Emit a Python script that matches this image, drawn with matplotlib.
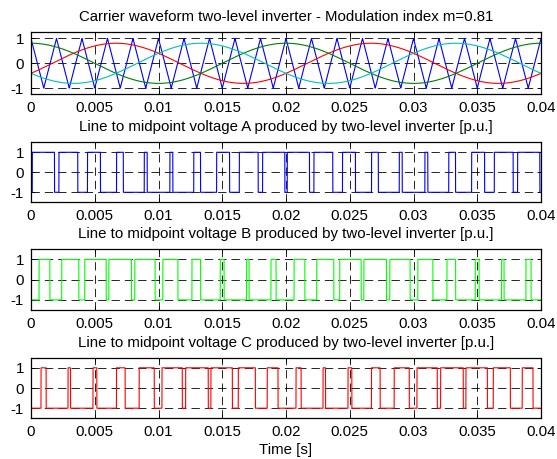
import numpy as np
import matplotlib
matplotlib.use("Agg")
import matplotlib.pyplot as plt

# ---- data ----
modulation_index = 0.81
fundamental_hz = 50.0
carrier_hz = 500.0
phase_deg_A = 0.0      # green sine in top panel -> panel A
phase_deg_B = -120.0   # red sine in top panel   -> panel B
phase_deg_C = 120.0    # cyan sine in top panel  -> panel C
t_end = 0.04
xticks = [0, 0.005, 0.01, 0.015, 0.02, 0.025, 0.03, 0.035, 0.04]
xticklabels = ["0", "0.005", "0.01", "0.015", "0.02", "0.025", "0.03", "0.035", "0.04"]
yticks = [-1, 0, 1]
titles = [
    "Carrier waveform two-level inverter - Modulation index m=0.81",
    "Line to midpoint voltage A produced by two-level inverter [p.u.]",
    "Line to midpoint voltage B produced by two-level inverter [p.u.]",
    "Line to midpoint voltage C produced by two-level inverter [p.u.]",
]
xlabel = "Time [s]"

# ---- signals ----
t = np.linspace(0, t_end, 80001)
w = 2 * np.pi * fundamental_hz
ref_A = modulation_index * np.cos(w * t + np.deg2rad(phase_deg_A))
ref_B = modulation_index * np.cos(w * t + np.deg2rad(phase_deg_B))
ref_C = modulation_index * np.cos(w * t + np.deg2rad(phase_deg_C))
# triangular carrier, +1 at t=0
ph = (t * carrier_hz) % 1.0
carrier = np.where(ph < 0.5, 1 - 4 * ph, -3 + 4 * ph)
pwm_A = np.where(ref_A > carrier, 1.0, -1.0)
pwm_B = np.where(ref_B > carrier, 1.0, -1.0)
pwm_C = np.where(ref_C > carrier, 1.0, -1.0)

plt.rcParams['font.family'] = ['Liberation Sans', 'DejaVu Sans']
fig = plt.figure(figsize=(5.57, 4.59), dpi=100)
W, H = 557.0, 459.0
left, right = 31.0, 541.0
boxes = [(32.3, 94.3), (142.3, 202.3), (249.3, 310.0), (357.7, 418.3)]
axes = []
for (top, bot) in boxes:
    ax = fig.add_axes([left / W, 1 - bot / H, (right - left) / W, (bot - top) / H])
    axes.append(ax)

fs = 10.8
ax = axes[0]
ax.plot(t, carrier, color=(0, 0, 1), lw=0.8)
ax.plot(t, ref_B, color=(1, 0, 0), lw=0.8)
ax.plot(t, ref_A, color=(0, 0.5, 0), lw=0.8)
ax.plot(t, ref_C, color=(0, 0.75, 0.75), lw=0.8)
ax.set_ylim(-1.25, 1.25)

for ax, y, c in zip(axes[1:], [pwm_A, pwm_B, pwm_C], [(0, 0, 1), (0, 1, 0), (1, 0, 0)]):
    ax.plot(t, y, color=c, lw=0.8)
    ax.set_ylim(-1.5, 1.5)

for ax, title in zip(axes, titles):
    ax.set_xlim(0, t_end)
    ax.set_xticks(xticks)
    ax.set_xticklabels(xticklabels, fontsize=fs)
    ax.set_yticks(yticks)
    ax.set_yticklabels([str(v) for v in yticks], fontsize=fs)
    ax.tick_params(direction='in', length=3, width=0.6, top=True, right=True, pad=5)
    ax.grid(True, color='black', linestyle=(0, (10, 6)), linewidth=0.6)
    for s in ax.spines.values():
        s.set_linewidth(0.9)
    ax.set_title(title, fontsize=fs, pad=8)

axes[-1].set_xlabel(xlabel, fontsize=fs, labelpad=3)
fig.savefig("out.png", dpi=100)
